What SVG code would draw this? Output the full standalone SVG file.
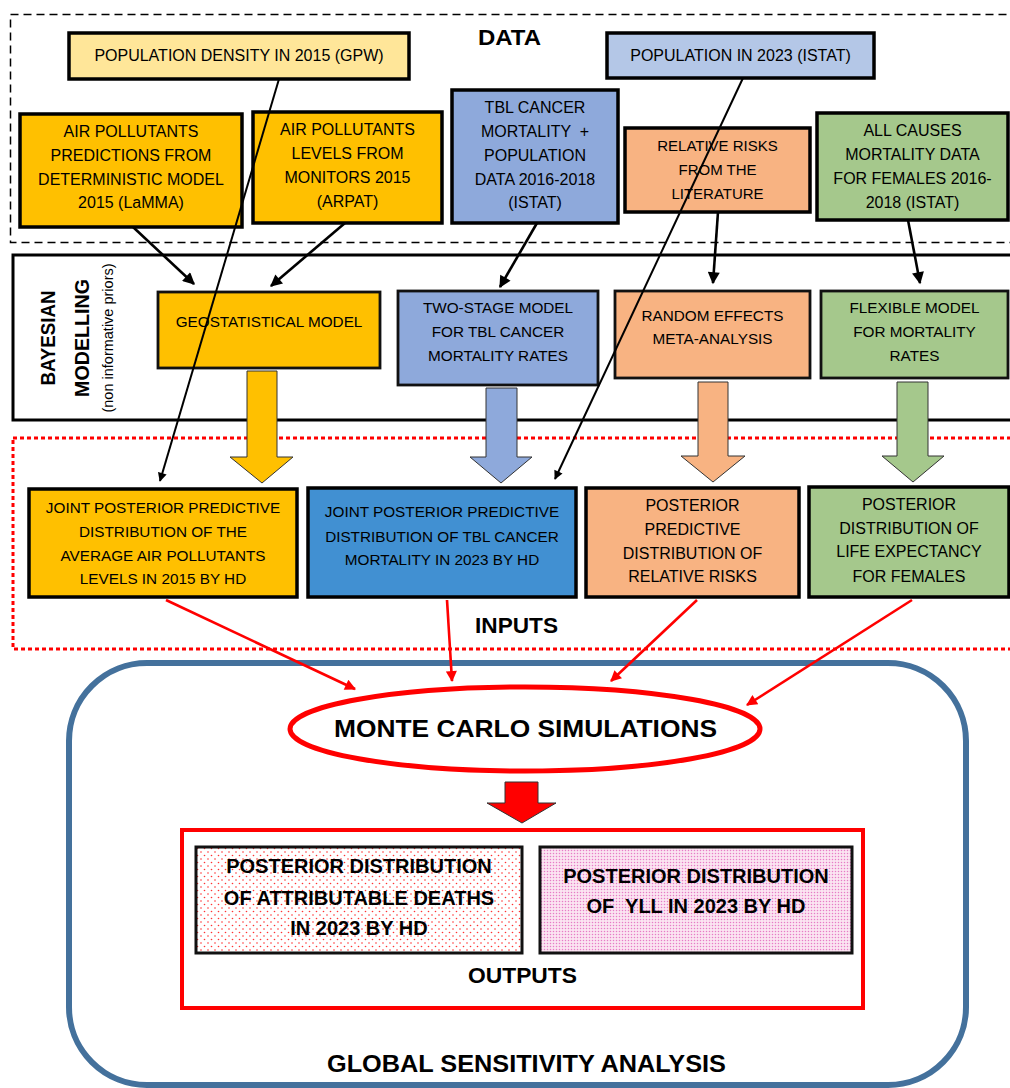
<svg xmlns="http://www.w3.org/2000/svg" width="1010" height="1088" viewBox="0 0 1010 1088">
<defs>
<style>
.t{font-family:"Liberation Sans",Arial,sans-serif;font-size:16px;fill:#000;text-anchor:middle}
.s{font-size:15.3px}
.b{font-family:"Liberation Sans",Arial,sans-serif;font-weight:bold;fill:#000;text-anchor:middle}
.box{stroke:#000;stroke-width:3.5}
.mbox{stroke:#111;stroke-width:2.8}
.blk{stroke:#000;stroke-width:2.6;fill:none}
.thin{stroke:#000;stroke-width:2;fill:none}
.red{stroke:#f00;stroke-width:2.6;fill:none}
.barrow{stroke:#333;stroke-width:1}
</style>
<marker id="ah" viewBox="0 0 10 10" refX="9" refY="5" markerWidth="13" markerHeight="12" markerUnits="userSpaceOnUse" orient="auto"><path d="M0,0 L10,5 L0,10 z" fill="#000"/></marker>
<marker id="ahs" viewBox="0 0 10 10" refX="9" refY="5" markerWidth="10" markerHeight="9" markerUnits="userSpaceOnUse" orient="auto"><path d="M0,0 L10,5 L0,10 z" fill="#000"/></marker>
<marker id="ahr" viewBox="0 0 10 10" refX="9" refY="5" markerWidth="14" markerHeight="11" markerUnits="userSpaceOnUse" orient="auto"><path d="M0,0 L10,5 L0,10 z" fill="#f00"/></marker>
<pattern id="dotsRed" width="7" height="7" patternUnits="userSpaceOnUse"><rect width="7" height="7" fill="#fff"/><circle cx="1.5" cy="1.5" r="0.8" fill="#f33"/><circle cx="5" cy="5" r="0.8" fill="#f33"/></pattern>
<pattern id="dotsPink" width="3" height="3" patternUnits="userSpaceOnUse"><rect width="3" height="3" fill="#fbe4f1"/><circle cx="1.5" cy="1.5" r="0.75" fill="#e77cc6"/></pattern>
</defs>
<rect width="1010" height="1088" fill="#fff"/>

<g id="containers">
<rect id="data-frame" x="10.5" y="14.5" width="1020" height="228" fill="none" stroke="#000" stroke-width="1.5" stroke-dasharray="8,5"/>
<text class="b" x="509.5" y="45" font-size="22" textLength="63" lengthAdjust="spacingAndGlyphs">DATA</text>
<rect id="bayes-frame" x="13" y="255" width="1010" height="165" fill="none" stroke="#000" stroke-width="3"/>
<text class="b" font-size="21" transform="translate(55,338) rotate(-90)" textLength="95" lengthAdjust="spacingAndGlyphs">BAYESIAN</text>
<text class="b" font-size="21" transform="translate(89,338) rotate(-90)" textLength="118" lengthAdjust="spacingAndGlyphs">MODELLING</text>
<text class="t" transform="translate(113,338) rotate(-90)" style="font-size:14.5px">(non informative priors)</text>
<rect id="inputs-frame" x="13" y="438" width="1010" height="211" fill="none" stroke="#f00" stroke-width="3" stroke-dasharray="4,3"/>
<text class="b" x="516.5" y="633" font-size="22" textLength="83" lengthAdjust="spacingAndGlyphs">INPUTS</text>
<rect id="gsa-frame" x="69" y="663" width="897" height="422" rx="78" ry="78" fill="none" stroke="#44719C" stroke-width="6"/>
<text class="b" x="526.5" y="1072" font-size="23" textLength="399" lengthAdjust="spacingAndGlyphs">GLOBAL SENSITIVITY ANALYSIS</text>
</g>

<g id="pop-density">
<rect class="box" x="69" y="33" width="340" height="46" fill="#FFE699"/>
<text class="t" x="239" y="61">POPULATION DENSITY IN 2015 (GPW)</text>
</g>
<g id="air-predictions">
<rect class="box" x="20" y="114" width="222" height="113" fill="#FFC000"/>
<text class="t" x="131" y="137">AIR POLLUTANTS</text>
<text class="t" x="131" y="161">PREDICTIONS FROM</text>
<text class="t" x="131" y="185">DETERMINISTIC MODEL</text>
<text class="t" x="131" y="208">2015 (LaMMA)</text>
</g>
<g id="air-levels">
<rect class="box" x="253" y="112" width="189" height="111" fill="#FFC000"/>
<text class="t" x="347.5" y="135">AIR POLLUTANTS</text>
<text class="t" x="347.5" y="159">LEVELS FROM</text>
<text class="t" x="347.5" y="183">MONITORS 2015</text>
<text class="t" x="347.5" y="207">(ARPAT)</text>
</g>
<g id="tbl-data">
<rect class="box" x="452" y="90" width="166" height="133" fill="#8EA9DB"/>
<text class="t" x="535" y="113">TBL CANCER</text>
<text class="t" x="535" y="137" style="white-space:pre">MORTALITY  +</text>
<text class="t" x="535" y="161">POPULATION</text>
<text class="t" x="535" y="185">DATA 2016-2018</text>
<text class="t" x="535" y="208">(ISTAT)</text>
</g>
<g id="pop-2023">
<rect class="box" x="607" y="33" width="267" height="45" fill="#B4C7E7"/>
<text class="t" x="740.5" y="61">POPULATION IN 2023 (ISTAT)</text>
</g>
<g id="rr-literature">
<rect class="box" x="625" y="128" width="185" height="84" fill="#F8B382"/>
<text class="t" x="717.5" y="151" style="font-size:15px">RELATIVE RISKS</text>
<text class="t" x="717.5" y="175" style="font-size:15px">FROM THE</text>
<text class="t" x="717.5" y="199" style="font-size:15px">LITERATURE</text>
</g>
<g id="all-causes">
<rect class="box" x="817" y="113" width="191" height="107" fill="#A5C88C"/>
<text class="t" x="912.5" y="136">ALL CAUSES</text>
<text class="t" x="912.5" y="160">MORTALITY DATA</text>
<text class="t" x="912.5" y="184">FOR FEMALES 2016-</text>
<text class="t" x="912.5" y="208">2018 (ISTAT)</text>
</g>

<g id="geostatistical">
<rect class="mbox" x="158" y="292" width="222" height="76" fill="#FFC000"/>
<text class="t s" x="269" y="327">GEOSTATISTICAL MODEL</text>
</g>
<g id="two-stage">
<rect class="mbox" x="398" y="291" width="200" height="94" fill="#8EA9DB"/>
<text class="t s" x="498" y="313">TWO-STAGE MODEL</text>
<text class="t s" x="498" y="337">FOR TBL CANCER</text>
<text class="t s" x="498" y="361">MORTALITY RATES</text>
</g>
<g id="meta-analysis">
<rect class="mbox" x="615" y="291" width="195" height="87" fill="#F8B382"/>
<text class="t s" x="712.5" y="321">RANDOM EFFECTS</text>
<text class="t s" x="712.5" y="344">META-ANALYSIS</text>
</g>
<g id="flexible">
<rect class="mbox" x="821" y="291" width="187" height="87" fill="#A5C88C"/>
<text class="t s" x="914.5" y="313">FLEXIBLE MODEL</text>
<text class="t s" x="914.5" y="337">FOR MORTALITY</text>
<text class="t s" x="914.5" y="361">RATES</text>
</g>

<g id="jp-air">
<rect class="box" x="29" y="489" width="268" height="108" fill="#FFC000"/>
<text class="t s" x="163" y="513">JOINT POSTERIOR PREDICTIVE</text>
<text class="t s" x="163" y="537">DISTRIBUTION OF THE</text>
<text class="t s" x="163" y="561">AVERAGE AIR POLLUTANTS</text>
<text class="t s" x="163" y="584">LEVELS IN 2015 BY HD</text>
</g>
<g id="jp-tbl">
<rect class="box" x="308" y="488" width="268" height="109" fill="#4190D2"/>
<text class="t s" x="442" y="517">JOINT POSTERIOR PREDICTIVE</text>
<text class="t s" x="442" y="542">DISTRIBUTION OF TBL CANCER</text>
<text class="t s" x="442" y="565">MORTALITY IN 2023 BY HD</text>
</g>
<g id="pp-rr">
<rect class="box" x="586" y="488" width="213" height="109" fill="#F8B382"/>
<text class="t" x="692.5" y="511">POSTERIOR</text>
<text class="t" x="692.5" y="535">PREDICTIVE</text>
<text class="t" x="692.5" y="559">DISTRIBUTION OF</text>
<text class="t" x="692.5" y="582">RELATIVE RISKS</text>
</g>
<g id="pd-le">
<rect class="box" x="809" y="487" width="200" height="110" fill="#A5C88C"/>
<text class="t" x="909" y="510">POSTERIOR</text>
<text class="t" x="909" y="534">DISTRIBUTION OF</text>
<text class="t" x="909" y="557">LIFE EXPECTANCY</text>
<text class="t" x="909" y="582">FOR FEMALES</text>
</g>

<g id="monte-carlo">
<ellipse cx="525" cy="729" rx="235" ry="42" fill="#fff" stroke="#f00" stroke-width="5"/>
<text class="b" x="525.5" y="737" font-size="24" textLength="383" lengthAdjust="spacingAndGlyphs">MONTE CARLO SIMULATIONS</text>
</g>

<g id="outputs">
<rect x="182" y="830" width="681" height="178" fill="none" stroke="#f00" stroke-width="4"/>
<text class="b" x="522.5" y="983" font-size="22" textLength="109" lengthAdjust="spacingAndGlyphs">OUTPUTS</text>
</g>
<g id="pd-deaths">
<rect x="196" y="847" width="326" height="106" fill="url(#dotsRed)" stroke="#111" stroke-width="3"/>
<text class="b" x="359" y="873" font-size="20">POSTERIOR DISTRIBUTION</text>
<text class="b" x="359" y="905" font-size="20">OF ATTRIBUTABLE DEATHS</text>
<text class="b" x="359" y="935" font-size="20">IN 2023 BY HD</text>
</g>
<g id="pd-yll">
<rect x="540" y="847" width="312" height="106" fill="url(#dotsPink)" stroke="#111" stroke-width="3"/>
<text class="b" x="696" y="883" font-size="20">POSTERIOR DISTRIBUTION</text>
<text class="b" x="696" y="913" font-size="20" style="white-space:pre">OF  YLL IN 2023 BY HD</text>
</g>

<g id="connectors">
<path class="barrow" d="M247,371 H277 V457 H293 L262,483 L230,457 H247 Z" fill="#FFC000"/>
<path class="barrow" d="M486,388 H517 V457 H532 L501,483 L470,457 H486 Z" fill="#8EA9DB"/>
<path class="barrow" d="M698,382 H728 V456 H745 L713,482 L681,456 H698 Z" fill="#F8B382"/>
<path class="barrow" d="M897,382 H928 V456 H944 L913,482 L882,456 H897 Z" fill="#A5C88C"/>
<path class="barrow" d="M505,782 H538 V803 H556 L522,823 L487,803 H505 Z" fill="#f00"/>
<line class="blk" x1="133" y1="227" x2="194" y2="284" marker-end="url(#ah)"/>
<line class="blk" x1="345" y1="223" x2="271" y2="286" marker-end="url(#ah)"/>
<line class="blk" x1="537" y1="223" x2="500" y2="287" marker-end="url(#ah)"/>
<line class="blk" x1="718" y1="212" x2="713" y2="283" marker-end="url(#ah)"/>
<line class="blk" x1="908" y1="220" x2="920" y2="283" marker-end="url(#ah)"/>
<line class="thin" x1="279" y1="79" x2="160" y2="481" marker-end="url(#ahs)"/>
<line class="thin" x1="743" y1="78" x2="555" y2="479" marker-end="url(#ahs)"/>
<line class="red" x1="166" y1="600" x2="355" y2="689" marker-end="url(#ahr)"/>
<line class="red" x1="447" y1="600" x2="452" y2="681" marker-end="url(#ahr)"/>
<line class="red" x1="697" y1="600" x2="611" y2="681" marker-end="url(#ahr)"/>
<line class="red" x1="912" y1="600" x2="747" y2="705" marker-end="url(#ahr)"/>
</g>
</svg>
